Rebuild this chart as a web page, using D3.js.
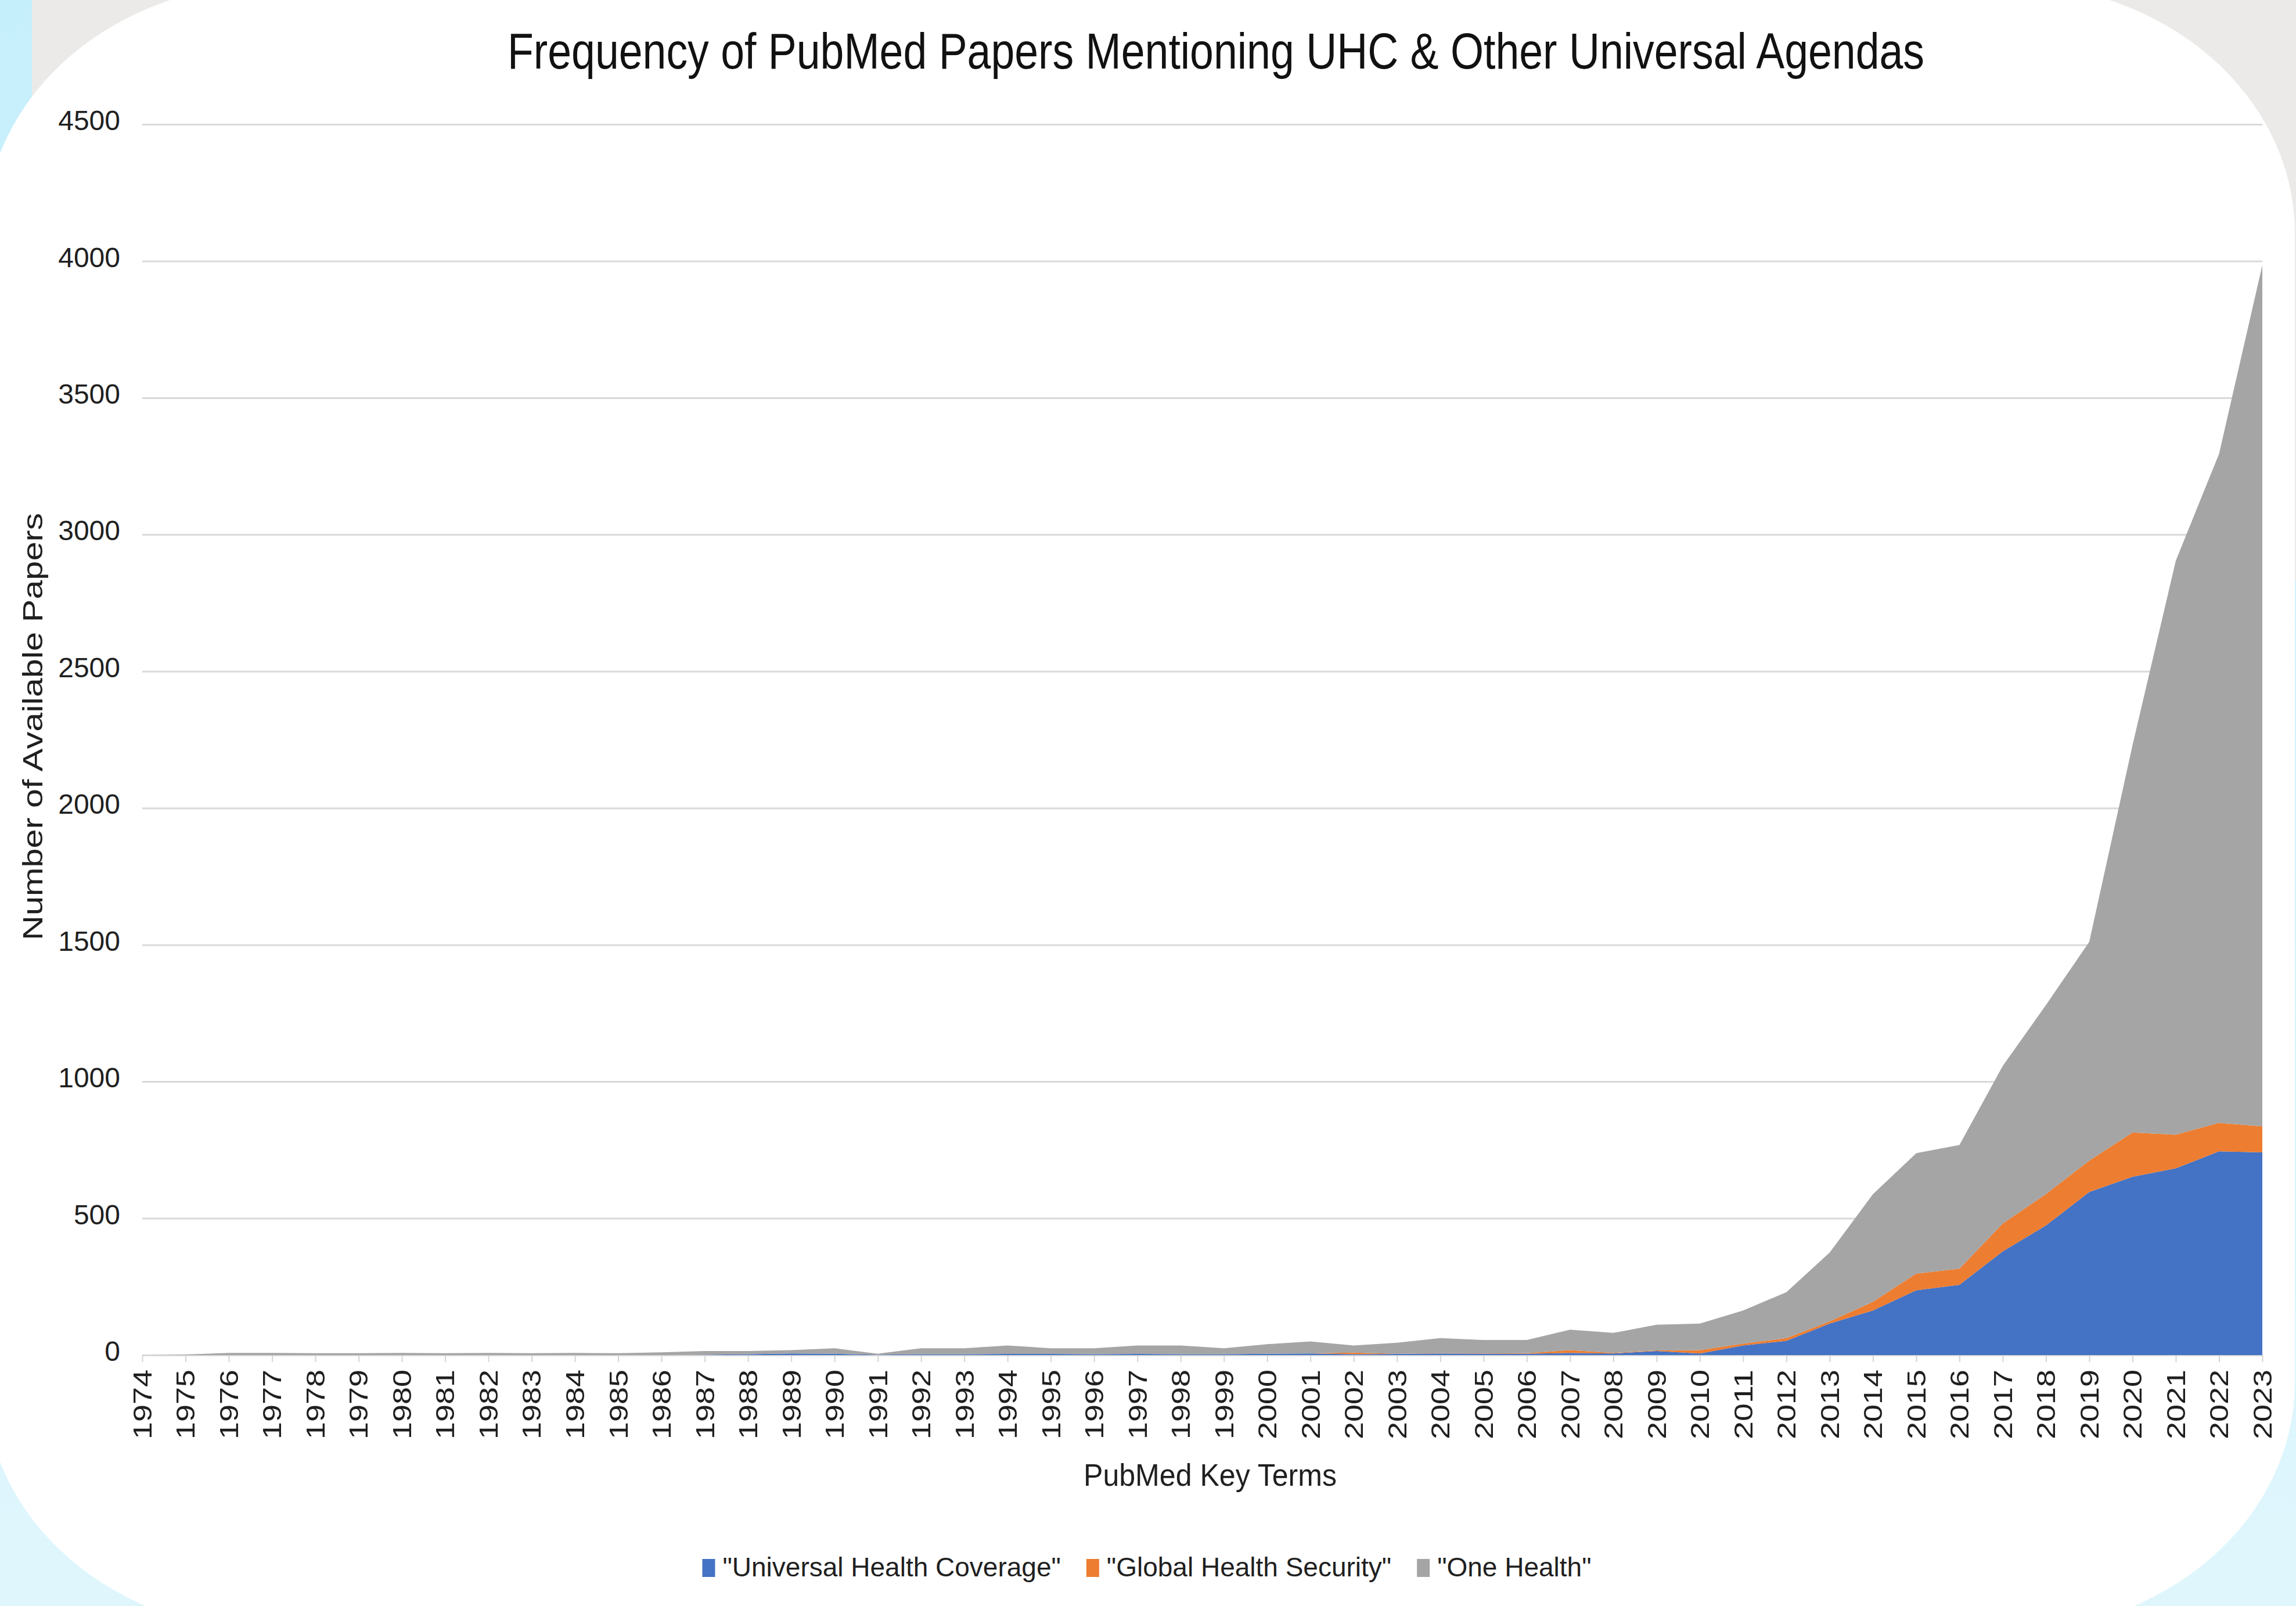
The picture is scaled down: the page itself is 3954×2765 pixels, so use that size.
<!DOCTYPE html>
<html>
<head>
<meta charset="utf-8">
<script src="https://cdnjs.cloudflare.com/ajax/libs/d3/7.8.5/d3.min.js"></script>
<style>
  body { margin: 0; background: #e0f6fd; overflow: hidden; }
  text { font-family: "Liberation Sans", Arial, Helvetica, sans-serif; }
</style>
</head>
<body>
<div id="chart"></div>
<script>
// data
var years = [1974, 1975, 1976, 1977, 1978, 1979, 1980, 1981, 1982, 1983,
             1984, 1985, 1986, 1987, 1988, 1989, 1990, 1991, 1992, 1993,
             1994, 1995, 1996, 1997, 1998, 1999, 2000, 2001, 2002, 2003,
             2004, 2005, 2006, 2007, 2008, 2009, 2010, 2011, 2012, 2013,
             2014, 2015, 2016, 2017, 2018, 2019, 2020, 2021, 2022, 2023];

var uhc = [0, 0, 0, 0, 0, 0, 0, 0, 0, 0,
           0, 0, 0, 1, 3, 6, 5, 1, 3, 3,
           4, 4, 3, 4, 3, 3, 5, 6, 3, 4,
           6, 5, 5, 8, 6, 15, 6, 35, 52, 115,
           163, 237, 257, 379, 474, 596, 652, 683, 745, 741];

var ghs = [0, 0, 0, 0, 0, 0, 0, 0, 0, 0,
           0, 0, 0, 0, 0, 0, 0, 0, 0, 0,
           0, 0, 0, 0, 0, 0, 0, 0, 6, 1,
           1, 1, 2, 10, 2, 2, 12, 7, 10, 8,
           32, 61, 59, 102, 115, 115, 162, 123, 104, 95];

var oneHealth = [0, 2, 8, 8, 7, 7, 8, 7, 8, 7,
                 8, 7, 10, 14, 12, 12, 20, 4, 22, 22,
                 31, 21, 22, 31, 32, 22, 35, 44, 26, 40,
                 55, 49, 48, 75, 73, 94, 97, 121, 168, 252,
                 393, 440, 452, 576, 691, 800, 1416, 2098, 2446, 3149];

var seriesKeys = ["uhc", "ghs", "oneHealth"];
var seriesLabels = ['"Universal Health Coverage"', '"Global Health Security"', '"One Health"'];
var seriesColors = ["#4472c4", "#ed7d31", "#a5a5a5"];
var yTicks = [0, 500, 1000, 1500, 2000, 2500, 3000, 3500, 4000, 4500];

var chartTitle = "Frequency of PubMed Papers Mentioning UHC & Other Universal Agendas";
var xTitle = "PubMed Key Terms";
var yTitle = "Number of Available Papers";

var svgWidth = 3954;
var svgHeight = 2765;

var margin = {
    top : 214,
    left : 245,
    right : 58,
    bottom : 432
};

var width = svgWidth - margin.left - margin.right;
var height = svgHeight - margin.top - margin.bottom;

var svg = d3.select("#chart")
    .append("svg")
    .attr("width", svgWidth)
    .attr("height", svgHeight);

// slide background + rounded white card
var defs = svg.append("defs");
var grad = defs.append("linearGradient")
    .attr("id", "bg")
    .attr("x1", 0).attr("y1", 0)
    .attr("x2", 0).attr("y2", 1);
grad.append("stop").attr("offset", "0%").attr("stop-color", "#c6effc");
grad.append("stop").attr("offset", "100%").attr("stop-color", "#e0f6fd");

svg.append("rect")
    .attr("width", svgWidth)
    .attr("height", svgHeight)
    .attr("fill", "url(#bg)");

svg.append("rect")
    .attr("x", 55)
    .attr("y", 0)
    .attr("width", svgWidth - 55)
    .attr("height", 1000)
    .attr("fill", "#ebeae8");

svg.append("rect")
    .attr("x", -26)
    .attr("y", -29)
    .attr("width", 3978)
    .attr("height", 2839)
    .attr("rx", 500)
    .attr("ry", 430)
    .attr("fill", "#ffffff");

var chartGroup = svg.append("g")
    .attr("transform", `translate(${margin.left}, ${margin.top})`);

var table = years.map(function(yr, i) {
    return { year: yr, uhc: uhc[i], ghs: ghs[i], oneHealth: oneHealth[i] };
});

var stacked = d3.stack().keys(seriesKeys)(table);

var xScale = d3.scalePoint()
    .domain(years)
    .range([0, width]);

var yScale = d3.scaleLinear()
    .domain([0, 4500])
    .range([height, 0]);

// gridlines + y labels
var yAxis = chartGroup.append("g")
    .call(d3.axisLeft(yScale)
        .tickValues(yTicks)
        .tickFormat(d3.format("d"))
        .tickSize(-width)
        .tickPadding(38));

yAxis.select(".domain").remove();
yAxis.selectAll("line")
    .attr("stroke", "#d9d9d9")
    .attr("stroke-width", 3);
yAxis.selectAll("text")
    .attr("font-size", 48)
    .attr("fill", "#1f1f1f")
    .attr("dy", "0.2em");

// stacked areas
var area = d3.area()
    .x(d => xScale(d.data.year))
    .y0(d => yScale(d[0]))
    .y1(d => yScale(d[1]));

chartGroup.selectAll(".layer")
    .data(stacked)
    .enter()
    .append("path")
    .attr("class", "layer")
    .attr("d", area)
    .attr("fill", (d, i) => seriesColors[i]);

// x axis
var xAxis = chartGroup.append("g")
    .attr("transform", `translate(0, ${height})`)
    .call(d3.axisBottom(xScale).tickSize(12).tickSizeOuter(0));

xAxis.select(".domain").remove();
xAxis.selectAll("line")
    .attr("stroke", "#d4d4d4")
    .attr("stroke-width", 2);
xAxis.selectAll("text")
    .attr("font-size", 44)
    .attr("fill", "#1f1f1f")
    .attr("transform", "rotate(-90)")
    .attr("text-anchor", "end")
    .attr("x", -25)
    .attr("y", 0)
    .attr("dy", "0.35em")
    .attr("textLength", 120)
    .attr("lengthAdjust", "spacingAndGlyphs");

// titles
svg.append("text")
    .attr("x", 2094)
    .attr("y", 118)
    .attr("text-anchor", "middle")
    .attr("font-size", 88)
    .attr("fill", "#111")
    .attr("textLength", 2440)
    .attr("lengthAdjust", "spacingAndGlyphs")
    .text(chartTitle);

svg.append("text")
    .attr("x", 2084)
    .attr("y", 2558)
    .attr("text-anchor", "middle")
    .attr("font-size", 54)
    .attr("fill", "#1f1f1f")
    .attr("textLength", 436)
    .attr("lengthAdjust", "spacingAndGlyphs")
    .text(xTitle);

svg.append("text")
    .attr("transform", "translate(73, 1251) rotate(-90)")
    .attr("text-anchor", "middle")
    .attr("font-size", 48)
    .attr("fill", "#1f1f1f")
    .attr("textLength", 736)
    .attr("lengthAdjust", "spacingAndGlyphs")
    .text(yTitle);

// legend
var legendGroup = svg.append("g")
    .attr("transform", "translate(0, 2684)");

var legendItems = legendGroup.selectAll(".legend-item")
    .data(seriesLabels)
    .enter()
    .append("g")
    .attr("class", "legend-item");

legendItems.append("rect")
    .attr("width", 22)
    .attr("height", 31)
    .attr("fill", (d, i) => seriesColors[i]);

legendItems.append("text")
    .attr("x", 35)
    .attr("y", 30)
    .attr("font-size", 46)
    .attr("fill", "#1f1f1f")
    .text(d => d);

var offset = 0;
var offsets = [];
legendItems.each(function() {
    offsets.push(offset);
    var w = d3.select(this).select("text").node().getComputedTextLength();
    offset += 35 + w + 44;
});
var legendWidth = offset - 44;
var legendStart = 1975 - legendWidth / 2;
legendItems.attr("transform", (d, i) => `translate(${legendStart + offsets[i]}, 0)`);
</script>
</body>
</html>
